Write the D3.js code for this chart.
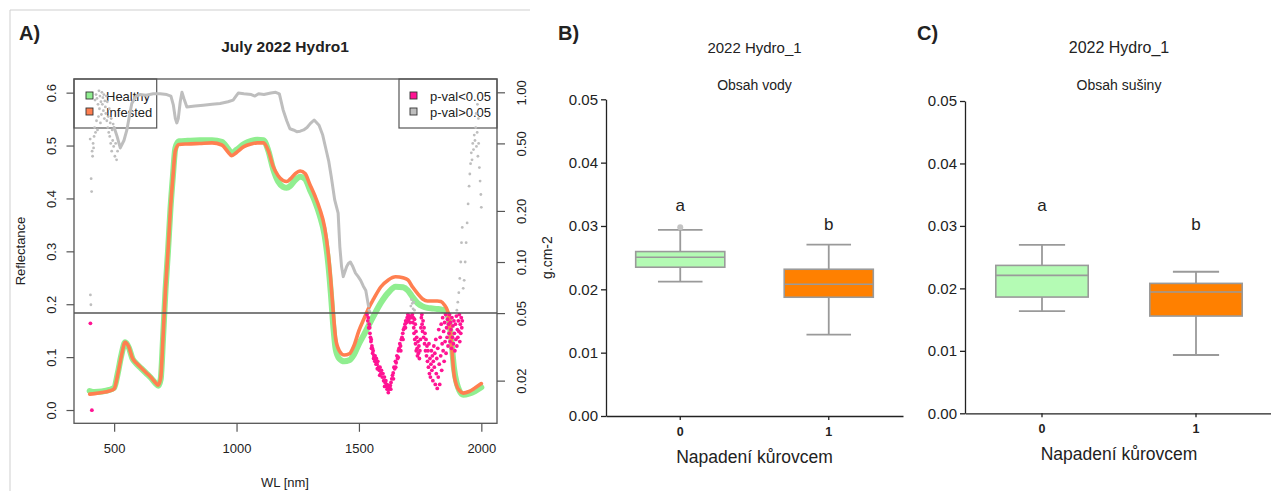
<!DOCTYPE html>
<html lang="en">

<head>
  <meta charset="UTF-8">
  <title>July 2022 Hydro1</title>
  <style>
    body { margin: 0; background: #fff; }
    svg text { font-family: "Liberation Sans", Arial, sans-serif; fill: #222; }
  </style>
</head>

<body>
  <svg id="svg" width="1271" height="491"></svg>

  <script src="https://d3js.org/d3.v7.min.js"></script>
  <script>
    // --- panel A: mean spectra ---
    const wlGrid = [
      400, 420, 450, 480, 500, 515, 530, 545, 560, 575,
      590, 610, 630, 650, 670, 680, 690, 700, 710, 720,
      730, 740, 750, 765, 800, 850, 900, 940, 965, 980,
      1000, 1030, 1060, 1085, 1110, 1130, 1150, 1170, 1190, 1205,
      1220, 1240, 1260, 1280, 1300, 1320, 1340, 1360, 1375, 1385,
      1395, 1405, 1420, 1440, 1460, 1480, 1500, 1520, 1540, 1560,
      1590, 1620, 1650, 1680, 1700, 1720, 1740, 1760, 1780, 1800,
      1820, 1835, 1850, 1860, 1868, 1879, 1888, 1900, 1910, 1926,
      1950, 1975, 2000
    ]
    const infestedRefl = [
      .030, .031, .033, .036, .040, .068, .103, .128, .119, .098,
      .089, .080, .071, .062, .051, .047, .060, .140, .230, .300,
      .380, .440, .490, .502, .503, .504, .505, .501, .488, .481,
      .487, .498, .503, .505, .505, .490, .460, .443, .434, .432,
      .437, .447, .452, .447, .426, .405, .380, .345, .295, .245,
      .185, .135, .112, .104, .106, .122, .150, .172, .193, .210,
      .233, .246, .252, .250, .246, .232, .220, .210, .206, .206,
      .206, .205, .198, .190, .176, .120, .069, .045, .037, .032,
      .035, .042, .050
    ]
    const healthyRefl = [
      .036, .034, .035, .038, .042, .070, .105, .128, .118, .097,
      .088, .079, .070, .061, .050, .046, .058, .138, .228, .300,
      .380, .442, .495, .508, .509, .510, .510, .507, .494, .486,
      .492, .503, .509, .511, .510, .490, .455, .432, .422, .420,
      .424, .435, .441, .437, .416, .395, .368, .330, .275, .222,
      .160, .115, .097, .092, .094, .105, .125, .142, .160, .178,
      .203, .222, .233, .232, .226, .213, .202, .196, .193, .192,
      .191, .190, .188, .183, .170, .125, .080, .050, .037, .029,
      .031, .036, .043
    ]

    // p-values (wl, p), right log axis
    const pGrayLine = [
      [500, 0.62], [512, 0.55], [525, 0.47], [540, 0.52], [552, 0.6], [562, 0.72], [572, 0.86], [590, 0.95],
      [606, 0.97], [630, 0.96], [660, 0.98], [688, 0.98], [715, 0.97], [732, 0.95], [742, 0.84], [750, 0.7],
      [756, 0.66], [762, 0.7], [770, 0.88], [777, 1.0], [785, 0.92], [797, 0.82], [830, 0.83], [864, 0.84],
      [900, 0.85], [933, 0.86], [965, 0.88], [986, 0.9], [1000, 0.96], [1007, 0.99], [1030, 0.98], [1060, 0.97],
      [1075, 0.95], [1090, 0.98], [1112, 0.97], [1140, 0.99], [1160, 1.0], [1175, 0.98], [1190, 0.79], [1205, 0.68],
      [1218, 0.61], [1232, 0.6], [1246, 0.586], [1260, 0.59], [1274, 0.6], [1288, 0.62], [1302, 0.656], [1317, 0.687],
      [1337, 0.64], [1352, 0.56], [1366, 0.457], [1377, 0.39], [1387, 0.318], [1401, 0.232], [1415, 0.194], [1422, 0.123],
      [1429, 0.094], [1436, 0.082], [1443, 0.088], [1450, 0.094], [1457, 0.098], [1465, 0.1], [1475, 0.094], [1486, 0.086],
      [1497, 0.082], [1507, 0.078], [1518, 0.072], [1528, 0.068], [1539, 0.055]
    ]
    const pGrayPts = [
      [402, 0.53], [403, 0.064], [405, 0.056], [406, 0.31], [408, 0.26], [410, 0.45], [412, 0.42], [414, 0.5],
      [416, 0.47], [418, 0.55], [420, 0.62], [422, 0.9], [424, 0.58], [426, 0.97], [428, 0.68], [430, 0.92],
      [432, 0.6], [434, 0.85], [436, 0.72], [438, 1.02], [440, 0.8], [442, 0.95], [444, 0.66], [446, 0.88],
      [448, 0.74], [450, 1.0], [452, 0.85], [454, 0.93], [456, 0.78], [458, 0.97], [460, 0.7], [462, 0.89],
      [464, 0.82], [466, 0.75], [468, 0.95], [470, 0.68], [472, 0.88], [474, 0.62], [476, 0.72], [478, 0.58],
      [480, 0.8], [482, 0.55], [484, 0.66], [486, 0.5], [488, 0.7], [490, 0.45], [492, 0.6], [494, 0.52],
      [496, 0.65], [498, 0.48], [503, 0.42], [506, 0.5], [510, 0.4], [514, 0.45],
      [1541, 0.052], [1545, 0.051], [1712, 0.055], [1715, 0.06], [1718, 0.057], [1721, 0.053], [1724, 0.058], [1727, 0.052],
      [1900, 0.052], [1904, 0.058], [1908, 0.066], [1912, 0.08], [1916, 0.1], [1919, 0.13], [1922, 0.16], [1926, 0.07],
      [1930, 0.078], [1934, 0.1], [1938, 0.13], [1942, 0.17], [1946, 0.22], [1950, 0.28], [1953, 0.33], [1956, 0.38],
      [1959, 0.44], [1962, 0.4], [1965, 0.5], [1968, 0.46], [1971, 0.56], [1974, 0.52], [1977, 0.62], [1979, 0.75],
      [1980, 0.48], [1983, 0.58], [1984, 0.85], [1986, 0.42], [1988, 0.7], [1989, 0.5], [1992, 0.36], [1995, 0.3],
      [1998, 0.25], [2000, 0.21]
    ]
    const pPinkPts = [
      [403, 0.0435], [409, 0.0134],
      [1533, 0.049], [1536, 0.045], [1538, 0.047], [1540, 0.041], [1542, 0.043], [1544, 0.041], [1545, 0.038], [1547, 0.036],
      [1549, 0.034], [1550, 0.035], [1551, 0.031], [1553, 0.032], [1555, 0.031], [1556, 0.029], [1558, 0.030], [1560, 0.027],
      [1561, 0.028], [1563, 0.027], [1565, 0.026], [1566, 0.028], [1568, 0.026], [1570, 0.025], [1571, 0.027], [1574, 0.025],
      [1575, 0.0235], [1577, 0.026], [1580, 0.024], [1583, 0.023], [1585, 0.0215], [1586, 0.024], [1589, 0.022], [1592, 0.023],
      [1595, 0.021], [1598, 0.022], [1601, 0.020], [1604, 0.021], [1605, 0.0185], [1607, 0.0195], [1610, 0.020], [1613, 0.019],
      [1615, 0.0178], [1616, 0.0185], [1619, 0.0188], [1620, 0.017], [1622, 0.0178], [1625, 0.0182], [1628, 0.0187], [1630, 0.0178],
      [1631, 0.0195], [1634, 0.0205], [1637, 0.0215], [1640, 0.0222], [1641, 0.0205], [1643, 0.024], [1646, 0.0235], [1649, 0.026],
      [1650, 0.024], [1652, 0.0255], [1655, 0.028], [1658, 0.027], [1660, 0.0275], [1661, 0.030], [1664, 0.031], [1667, 0.033],
      [1670, 0.032], [1671, 0.030], [1673, 0.035], [1676, 0.036], [1679, 0.038], [1680, 0.035], [1682, 0.040], [1685, 0.041],
      [1688, 0.043], [1690, 0.041], [1691, 0.045], [1694, 0.044], [1697, 0.047], [1700, 0.049], [1701, 0.045], [1703, 0.046],
      [1706, 0.048], [1709, 0.044], [1712, 0.047],
      [1718, 0.049], [1720, 0.044], [1722, 0.047], [1724, 0.041], [1725, 0.038], [1727, 0.046], [1728, 0.035], [1730, 0.043],
      [1731, 0.033], [1733, 0.039], [1734, 0.030], [1736, 0.036], [1738, 0.031], [1739, 0.028], [1741, 0.034], [1743, 0.029],
      [1745, 0.032], [1747, 0.027], [1749, 0.030], [1751, 0.035], [1753, 0.041], [1755, 0.047], [1757, 0.049], [1758, 0.043],
      [1760, 0.039], [1762, 0.045], [1764, 0.036], [1766, 0.041], [1768, 0.033], [1770, 0.038], [1772, 0.030], [1774, 0.035],
      [1776, 0.028], [1778, 0.032], [1780, 0.026], [1782, 0.030], [1784, 0.024], [1786, 0.033], [1788, 0.022], [1790, 0.027],
      [1792, 0.021], [1794, 0.025], [1796, 0.030], [1798, 0.023], [1800, 0.028], [1802, 0.020], [1804, 0.026], [1806, 0.032],
      [1808, 0.024], [1810, 0.029], [1812, 0.019], [1814, 0.035], [1816, 0.022], [1818, 0.027], [1820, 0.018], [1822, 0.031],
      [1824, 0.021], [1826, 0.040], [1828, 0.025], [1830, 0.019], [1832, 0.036], [1834, 0.028], [1836, 0.043], [1838, 0.023],
      [1840, 0.033], [1842, 0.047], [1844, 0.030], [1846, 0.039], [1848, 0.026], [1850, 0.044], [1852, 0.034], [1854, 0.049],
      [1856, 0.029], [1858, 0.041], [1860, 0.036], [1862, 0.046], [1864, 0.032], [1866, 0.043], [1868, 0.038], [1870, 0.049],
      [1872, 0.034], [1874, 0.044], [1876, 0.040], [1878, 0.031], [1880, 0.047], [1882, 0.036], [1884, 0.042], [1886, 0.033],
      [1888, 0.045], [1890, 0.038], [1892, 0.030], [1894, 0.043], [1896, 0.035], [1898, 0.048], [1900, 0.032], [1902, 0.040],
      [1904, 0.036], [1906, 0.045], [1908, 0.039], [1910, 0.049], [1912, 0.034], [1914, 0.043], [1916, 0.038], [1918, 0.047],
      [1920, 0.041], [1922, 0.045]
    ]
    const reflTicks = [0, 0.1, 0.2, 0.3, 0.4, 0.5, 0.6]
    const pTicks = [0.02, 0.05, 0.1, 0.2, 0.5, 1]
    const wlTicks = [500, 1000, 1500, 2000]
    const specLabels = ["Healthy", "Infested"]
    const specColors = ["#90ee90", "#ff7f50"]
    const pLabels = ["p-val<0.05", "p-val>0.05"]
    const pColors = ["#ff1493", "#bebebe"]
    const pCut = 0.05

    // --- panels B and C: boxplots ---
    const groups = ["0", "1"]
    const groupColors = ["#b4fbb4", "#ff8000"]
    // [lower whisker, q1, median, q3, upper whisker]
    const waterBox = [[0.02122, 0.02349, 0.02507, 0.02596, 0.02938], [0.01285, 0.01875, 0.0208, 0.02317, 0.02707]]
    const waterOutliers = [["0", 0.0298]]
    const dryBox = [[0.01637, 0.01861, 0.02208, 0.02368, 0.02698], [0.00933, 0.01557, 0.01941, 0.0208, 0.02266]]
    const dryOutliers = []
    const sigLetters = ["a", "b"]
    const boxTicks = [0, 0.01, 0.02, 0.03, 0.04, 0.05]

    const svg = d3.select("#svg")

    // light frame around panel A
    svg.append("path").attr("d", "M10,491V10H530")
      .attr("fill", "none").attr("stroke", "#cfcfcf")

    // ================= A =================
    const xA = d3.scaleLinear().domain([336, 2064]).range([74, 497])
    const yA = d3.scaleLinear().domain([-0.0251, 0.6258]).range([423.3, 79])
    const pA = d3.scaleLog().domain([0.01121, 1.198]).range([423.3, 79])
    const A = svg.append("g")

    A.append("text").attr("x", 19).attr("y", 40)
      .style("font-size", "20px").style("font-weight", "bold").text("A)")
    A.append("text").attr("x", 285).attr("y", 52).attr("text-anchor", "middle")
      .style("font-size", "15.5px").style("font-weight", "bold").text("July 2022 Hydro1")

    A.append("rect")
      .attr("x", xA.range()[0]).attr("y", yA.range()[1])
      .attr("width", xA.range()[1] - xA.range()[0]).attr("height", yA.range()[0] - yA.range()[1])
      .attr("fill", "none").attr("stroke", "#555").attr("stroke-width", 1.3)

    const styleAxis = g => {
      g.select(".domain").remove()
      g.selectAll(".tick line").attr("stroke", "#555").attr("stroke-width", 1.2)
      g.selectAll("text").style("font-size", "13px").style("font-family", "Liberation Sans, Arial, sans-serif").attr("fill", "#333")
    }

    A.append("g").attr("transform", `translate(${xA.range()[0]},0)`)
      .call(d3.axisLeft(yA).tickValues(reflTicks).tickFormat(d3.format(".1f")).tickSize(7.5))
      .call(styleAxis)
      .call(g => g.selectAll(".tick text").attr("x", null).attr("dy", null)
        .attr("text-anchor", "middle").attr("transform", "translate(-18,0) rotate(-90)"))

    A.append("g").attr("transform", `translate(${xA.range()[1]},0)`)
      .call(d3.axisRight(pA).tickValues(pTicks).tickFormat(d3.format(".2f")).tickSize(8))
      .call(styleAxis)
      .call(g => g.selectAll(".tick text").attr("x", null).attr("dy", null)
        .attr("text-anchor", "middle").attr("transform", "translate(29,0) rotate(-90)"))

    A.append("g").attr("transform", `translate(0,${yA.range()[0]})`)
      .call(d3.axisBottom(xA).tickValues(wlTicks).tickFormat(d3.format("d")).tickSize(8.5))
      .call(styleAxis)
      .call(g => g.selectAll(".tick text").attr("y", 30).attr("dy", null))

    A.append("text").attr("transform", "translate(24.5,251) rotate(-90)").attr("text-anchor", "middle")
      .style("font-size", "13px").attr("fill", "#333").text("Reflectance")
    A.append("text").attr("x", 285).attr("y", 487).attr("text-anchor", "middle")
      .style("font-size", "13px").attr("fill", "#333").text("WL [nm]")

    // legends
    const legBox = (x0, x1) => A.append("rect").attr("x", x0).attr("y", yA.range()[1])
      .attr("width", x1 - x0).attr("height", 49).attr("fill", "none").attr("stroke", "#555").attr("stroke-width", 1.2)
    legBox(xA.range()[0], 156.7)
    legBox(399, xA.range()[1])
    const legItems = (x, labels, colors) => labels.forEach((l, i) => {
      A.append("rect").attr("x", x).attr("y", 92 + i * 16).attr("width", 7).attr("height", 7)
        .attr("fill", colors[i]).attr("stroke", "#333").attr("stroke-width", 0.9)
      A.append("text").attr("x", x + 20).attr("y", 100.5 + i * 16)
        .style("font-size", "13px").attr("fill", "#333").text(l)
    })
    legItems(86, specLabels, specColors)
    legItems(410, pLabels, pColors)

    // spectra
    const spec = d3.line().x(d => xA(d[0])).y(d => yA(d[1])).curve(d3.curveMonotoneX)
    A.append("path").datum(wlGrid.map((w, i) => [w, healthyRefl[i]]))
      .attr("d", spec).attr("fill", "none").attr("stroke", specColors[0])
      .attr("stroke-width", 6).attr("stroke-linejoin", "round").attr("stroke-linecap", "round")
    A.append("path").datum(wlGrid.map((w, i) => [w, infestedRefl[i]]))
      .attr("d", spec).attr("fill", "none").attr("stroke", specColors[1])
      .attr("stroke-width", 3.6).attr("stroke-linejoin", "round").attr("stroke-linecap", "round")

    // p-values
    const pLine = d3.line().x(d => xA(d[0])).y(d => pA(d[1]))
    A.append("path").datum(pGrayLine).attr("d", pLine)
      .attr("fill", "none").attr("stroke", pColors[1]).attr("stroke-width", 3)
      .attr("stroke-linejoin", "round").attr("stroke-linecap", "round")
    A.append("g").selectAll("circle").data(pGrayPts).enter().append("circle")
      .attr("cx", d => xA(d[0])).attr("cy", d => pA(d[1])).attr("r", 1.4).attr("fill", pColors[1])
    A.append("g").selectAll("circle").data(pPinkPts).enter().append("circle")
      .attr("cx", d => xA(d[0])).attr("cy", d => pA(d[1])).attr("r", 1.9).attr("fill", pColors[0])

    A.append("line").attr("x1", xA.range()[0]).attr("x2", xA.range()[1])
      .attr("y1", pA(pCut)).attr("y2", pA(pCut)).attr("stroke", "#555").attr("stroke-width", 1.5)

    // ================= B, C =================
    function boxPanel(cfg) {
      const g = svg.append("g")
      const x = d3.scaleBand().domain(groups).range(cfg.xr)
      const y = d3.scaleLinear().domain([0, 0.05]).range(cfg.yr)
      const bw = x.bandwidth() * 0.6

      g.append("text").attr("x", cfg.xr[0] - 48).attr("y", 40)
        .style("font-size", "20px").style("font-weight", "bold").text(cfg.tag)
      const mid = (cfg.xr[0] + cfg.xr[1]) / 2
      g.append("text").attr("x", mid).attr("y", 53).attr("text-anchor", "middle")
        .style("font-size", cfg.titleSize).text("2022 Hydro_1")
      g.append("text").attr("x", mid).attr("y", 90).attr("text-anchor", "middle")
        .style("font-size", "14px").text(cfg.sub)

      g.append("g").attr("transform", `translate(${cfg.xr[0]},0)`)
        .call(d3.axisLeft(y).tickValues(boxTicks).tickFormat(d3.format(".2f")).tickSize(5).tickPadding(3).tickSizeOuter(0))
        .call(a => a.selectAll("text").style("font-size", "15px").style("font-family", "Liberation Sans, Arial, sans-serif").attr("fill", "#222"))
        .call(a => a.selectAll("path, line").attr("stroke", "#222").attr("stroke-width", 1.3))

      g.append("g").attr("transform", `translate(0,${cfg.yr[0]})`)
        .call(d3.axisBottom(x).tickSize(4).tickSizeOuter(0).tickPadding(3))
        .call(a => a.selectAll("text").attr("dy", null).attr("y", 19.5)
          .style("font-size", "12.5px").style("font-weight", "bold").style("font-family", "Liberation Sans, Arial, sans-serif").attr("fill", "#222"))
        .call(a => a.selectAll("path, line").attr("stroke", "#222").attr("stroke-width", 1.3))

      g.append("text").attr("x", mid).attr("y", cfg.yr[0] + 46.5).attr("text-anchor", "middle")
        .style("font-size", "17.5px").text("Napadení kůrovcem")
      if (cfg.ylab) {
        g.append("text").attr("transform", `translate(552,${(cfg.yr[0] + cfg.yr[1]) / 2}) rotate(-90)`)
          .attr("text-anchor", "middle").style("font-size", "14px").text(cfg.ylab)
      }

      cfg.stats.forEach((s, i) => {
        const c = x(groups[i]) + x.bandwidth() / 2
        const [lo, q1, med, q3, hi] = s
        const bg = g.append("g").attr("stroke", "#9a9a9a")
        bg.append("line").attr("x1", c).attr("x2", c).attr("y1", y(hi)).attr("y2", y(q3)).attr("stroke-width", 1.8)
        bg.append("line").attr("x1", c).attr("x2", c).attr("y1", y(q1)).attr("y2", y(lo)).attr("stroke-width", 1.8)
        bg.append("line").attr("x1", c - bw / 4).attr("x2", c + bw / 4).attr("y1", y(hi)).attr("y2", y(hi)).attr("stroke-width", 1.8)
        bg.append("line").attr("x1", c - bw / 4).attr("x2", c + bw / 4).attr("y1", y(lo)).attr("y2", y(lo)).attr("stroke-width", 1.8)
        bg.append("rect").attr("x", c - bw / 2).attr("y", y(q3)).attr("width", bw).attr("height", y(q1) - y(q3))
          .attr("fill", groupColors[i]).attr("stroke-width", 1.6)
        bg.append("line").attr("x1", c - bw / 2).attr("x2", c + bw / 2).attr("y1", y(med)).attr("y2", y(med)).attr("stroke-width", 1.6)
        g.append("text").attr("x", c).attr("y", y(i === 0 ? 0.0324 : 0.0294)).attr("text-anchor", "middle")
          .style("font-size", "17px").text(sigLetters[i])
      })
      g.selectAll("circle.out").data(cfg.outliers).enter().append("circle")
        .attr("cx", d => x(d[0]) + x.bandwidth() / 2).attr("cy", d => y(d[1])).attr("r", 3).attr("fill", "#c4c4c4")
    }

    boxPanel({ tag: "B)", sub: "Obsah vody", xr: [606, 903], yr: [416, 99.3], stats: waterBox, outliers: waterOutliers, ylab: "g.cm-2", titleSize: "15px" })
    boxPanel({ tag: "C)", sub: "Obsah sušiny", xr: [965, 1273], yr: [413.3, 101], stats: dryBox, outliers: dryOutliers, ylab: null, titleSize: "16px" })
  </script>
</body>

</html>
